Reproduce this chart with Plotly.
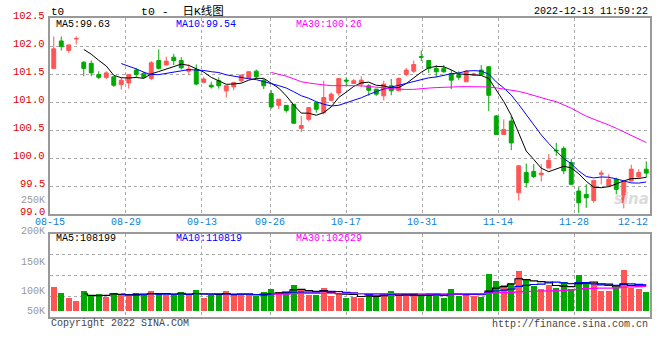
import plotly.graph_objects as go
import pandas as pd

# ---------------- data ----------------
opens = [101.60, 102.09, 101.92, 102.125, 101.71, 101.69, 101.49, 101.44, 101.45, 101.31,
         101.34, 101.57, 101.51, 101.42, 101.74, 101.66, 101.80, 101.74, 101.55, 101.58,
         101.35, 101.30, 101.38, 101.20, 101.27, 101.38, 101.42, 101.55, 101.39, 101.15,
         100.94, 100.94, 100.96, 100.53, 100.69, 100.99, 100.81, 101.03, 101.16, 101.39,
         101.33, 101.32, 101.29, 101.23, 101.11, 101.29, 101.20, 101.49, 101.55, 101.81,
         101.74, 101.60, 101.60, 101.51, 101.49, 101.36, 101.48, 101.57, 101.63, 100.75,
         100.42, 100.66, 99.38, 99.74, 99.76, 99.70, 99.82, 100.14, 100.17, 99.92,
         99.41, 99.35, 99.24, 99.71, 99.50, 99.62, 99.20, 99.59, 99.66, 99.80]
highs = [102.17, 102.17, 102.02, 102.17, 101.73, 101.74, 101.55, 101.55, 101.46, 101.44,
         101.49, 101.61, 101.54, 101.73, 101.94, 101.81, 101.86, 101.80, 101.67, 101.67,
         101.45, 101.36, 101.44, 101.29, 101.36, 101.49, 101.55, 101.58, 101.41, 101.21,
         101.05, 100.94, 100.96, 100.75, 100.90, 100.99, 101.38, 101.17, 101.42, 101.44,
         101.41, 101.46, 101.32, 101.23, 101.38, 101.41, 101.44, 101.61, 101.74, 101.92,
         101.74, 101.66, 101.66, 101.57, 101.55, 101.57, 101.52, 101.66, 101.63, 100.77,
         100.69, 100.75, 99.87, 99.90, 99.89, 99.89, 100.07, 100.27, 100.21, 99.98,
         99.48, 99.53, 99.60, 99.78, 99.71, 99.65, 99.60, 99.88, 99.80, 99.94]
lows = [101.60, 101.92, 101.88, 102.03, 101.46, 101.46, 101.41, 101.41, 101.27, 101.22,
        101.24, 101.44, 101.42, 101.39, 101.58, 101.66, 101.66, 101.58, 101.49, 101.30,
        101.35, 101.24, 101.24, 101.08, 101.21, 101.35, 101.41, 101.42, 101.23, 100.88,
        100.87, 100.81, 100.62, 100.46, 100.66, 100.81, 100.78, 101.01, 101.11, 101.29,
        101.32, 101.26, 101.11, 101.11, 101.03, 101.12, 101.20, 101.46, 101.52, 101.73,
        101.52, 101.44, 101.52, 101.23, 101.39, 101.36, 101.47, 101.49, 100.84, 100.42,
        100.42, 100.14, 99.24, 99.47, 99.64, 99.58, 99.82, 100.04, 99.71, 99.53,
        99.02, 99.11, 99.20, 99.53, 99.50, 99.35, 99.10, 99.58, 99.65, 99.65]
closes = [101.95, 101.99, 102.02, 102.135, 101.60, 101.52, 101.44, 101.52, 101.30, 101.39,
          101.49, 101.49, 101.44, 101.70, 101.60, 101.73, 101.74, 101.61, 101.59, 101.32,
          101.41, 101.27, 101.29, 101.29, 101.35, 101.48, 101.54, 101.45, 101.29, 100.91,
          101.05, 100.85, 100.62, 100.58, 100.90, 100.87, 101.08, 101.14, 101.42, 101.375,
          101.38, 101.39, 101.21, 101.14, 101.32, 101.20, 101.42, 101.57, 101.67, 101.80,
          101.60, 101.54, 101.54, 101.39, 101.44, 101.55, 101.50, 101.49, 101.12, 100.42,
          100.51, 100.27, 99.86, 99.56, 99.67, 99.73, 99.96, 100.13, 99.77, 99.53,
          99.20, 99.29, 99.60, 99.73, 99.62, 99.44, 99.57, 99.80, 99.74, 99.73]
volumes = [102000, 77000, 54000, 43000, 85000, 67000, 71000, 60000, 77000, 71000,
           62000, 77000, 67000, 85000, 71000, 65000, 65000, 81000, 66000, 89000,
           55000, 65000, 71000, 85000, 65000, 65000, 65000, 63000, 80000, 93000,
           80000, 80000, 109000, 92000, 65000, 65000, 97000, 64000, 72000, 54000,
           58000, 54000, 75000, 61000, 71000, 84000, 61000, 71000, 61000, 61000,
           75000, 75000, 54000, 92000, 64000, 75000, 64000, 58000, 156000, 127000,
           109000, 119000, 170000, 135000, 104000, 92000, 109000, 97000, 122000, 94000,
           153000, 122000, 119000, 85000, 85000, 97000, 173000, 97000, 94000, 81000]

date_tick_pos = [0, 10, 20, 29, 39, 49, 59, 69, 79]
date_tick_labels = ["08-15", "08-29", "09-13", "09-26", "10-17", "10-31", "11-14", "11-28", "12-12"]
price_ticks = [99.0, 99.5, 100.0, 100.5, 101.0, 101.5, 102.0, 102.5]
vol_axis_labels = ["250K", "200K", "150K", "100K", "50K"]
price_ma_labels = ["MA5:99.63", "MA10:99.54", "MA30:100.26"]
vol_ma_labels = ["MA5:108199", "MA10:110819", "MA30:102629"]
ma_windows = [5, 10, 30]

# ---------------- styling / layout helpers ----------------
W, H = 660, 360
RED, GREEN = "#ff5555", "#00a800"
MA_COLORS = ["#000000", "#0000ff", "#ff00ff"]
MONO = "Liberation Mono, DejaVu Sans Mono, monospace"
GRID = "#aaaaaa"
FRAME = "#999999"
PRICE_TOP_PX, PRICE_BOT_PX = 18.0, 214.0


def px_x(p):
    return p / W


def px_y(p):
    return 1 - p / H


N = len(closes)
xs = list(range(N))
grid_scale = N / (N - 1)  # date gridlines are spread over N-1 steps
grid_vals = [i * grid_scale - 0.5 for i in date_tick_pos]

# volume axis: bars start at pixel 310.7, ~4260 units per pixel
vol_per_px = 4260.0
vol_lo = -(317.3 - 310.7) * vol_per_px
vol_hi = (310.7 - 234.0) * vol_per_px
vol_grid = [vol_lo + k * (vol_hi - vol_lo) / 4 for k in (1, 2, 3)]

fig = go.Figure()

fig.add_trace(go.Candlestick(
    x=xs, open=opens, high=highs, low=lows, close=closes,
    increasing=dict(line=dict(color=RED, width=1), fillcolor=RED),
    decreasing=dict(line=dict(color=GREEN, width=1), fillcolor=GREEN),
    whiskerwidth=0, xaxis="x", yaxis="y", hoverinfo="skip",
))

close_s = pd.Series(closes)
for w, c in zip(ma_windows, MA_COLORS):
    fig.add_trace(go.Scatter(
        x=xs, y=close_s.rolling(w).mean(), mode="lines",
        line=dict(color=c, width=1), xaxis="x", yaxis="y", hoverinfo="skip",
    ))

bar_colors = [RED if c >= o else GREEN for o, c in zip(opens, closes)]
fig.add_trace(go.Bar(
    x=xs, y=volumes, marker=dict(color=bar_colors, line=dict(width=0)),
    width=0.76, xaxis="x2", yaxis="y2", hoverinfo="skip",
))
vol_s = pd.Series(volumes)
for w, c in zip(ma_windows, MA_COLORS):
    fig.add_trace(go.Scatter(
        x=xs, y=vol_s.rolling(w).mean(), mode="lines",
        line=dict(color=c, width=1.2, shape="hvh"), xaxis="x2", yaxis="y2",
        hoverinfo="skip",
    ))

xdom = [px_x(50), px_x(650)]
common_x = dict(
    domain=xdom, range=[-0.5, N - 0.5], tickmode="array",
    tickvals=grid_vals[1:-1], showticklabels=False, ticks="",
    showgrid=True, gridcolor=GRID, griddash="dot", gridwidth=1,
    zeroline=False, showline=True, mirror=True, linecolor=FRAME, linewidth=1.5,
    fixedrange=True,
)

annotations = []
# price labels (drawn slightly above their gridlines, as in the original)
for v in price_ticks:
    annotations.append(dict(
        x=px_x(47), y=v, xref="paper", yref="y", text=f"{v:.1f}", showarrow=False,
        xanchor="right", yanchor="middle", yshift=2,
        font=dict(family=MONO, size=10.5, color="#e00000"),
    ))
# date labels
for pos, lab in zip(grid_vals, date_tick_labels):
    last = lab == date_tick_labels[-1]
    annotations.append(dict(
        x=pos, y=px_y(222), xref="x", yref="paper", text=lab, showarrow=False,
        xanchor="right" if last else "center", yanchor="middle",
        font=dict(family=MONO, size=10, color="#1080d8"),
    ))
# volume axis labels (as they appear in the original)
for lab, ypx in zip(vol_axis_labels, [200, 231, 262, 291, 311]):
    annotations.append(dict(
        x=px_x(46.5), y=px_y(ypx), xref="paper", yref="paper", text=lab,
        showarrow=False, xanchor="right", yanchor="middle",
        font=dict(family=MONO, size=10, color="#999999"),
    ))
# MA legends
for lab, c, xpx in zip(price_ma_labels, MA_COLORS, [54, 174, 294]):
    annotations.append(dict(
        x=px_x(xpx), y=px_y(24.5), xref="paper", yref="paper", text=lab,
        showarrow=False, xanchor="left", yanchor="middle",
        font=dict(family=MONO, size=10, color=c),
    ))
for lab, c, xpx in zip(vol_ma_labels, MA_COLORS, [54, 174, 294]):
    annotations.append(dict(
        x=px_x(xpx), y=px_y(238.5), xref="paper", yref="paper", text=lab,
        showarrow=False, xanchor="left", yanchor="middle",
        font=dict(family=MONO, size=10, color=c),
    ))
# header / footer texts
annotations += [
    dict(x=px_x(49), y=px_y(12), xref="paper", yref="paper", text="t0",
         showarrow=False, xanchor="left", yanchor="middle",
         font=dict(family=MONO, size=11, color="#000")),
    dict(x=px_x(182), y=px_y(11), xref="paper", yref="paper",
         text="t0\u00a0-\u00a0\u00a0日K线图",
         showarrow=False, xanchor="center", yanchor="middle",
         font=dict(family="Liberation Mono, Noto Sans CJK SC", size=11.5, color="#000")),
    dict(x=px_x(650), y=px_y(12), xref="paper", yref="paper",
         text="2022-12-13 11:59:22", showarrow=False, xanchor="right",
         yanchor="middle", font=dict(family=MONO, size=10, color="#000")),
    dict(x=px_x(49), y=px_y(323.5), xref="paper", yref="paper",
         text="Copyright 2022 SINA.COM", showarrow=False, xanchor="left",
         yanchor="middle", font=dict(family=MONO, size=10, color="#444")),
    dict(x=px_x(650), y=px_y(324), xref="paper", yref="paper",
         text="http://finance.sina.com.cn", showarrow=False, xanchor="right",
         yanchor="middle", font=dict(family=MONO, size=10, color="#444")),
    dict(x=px_x(651), y=px_y(199), xref="paper", yref="paper",
         text="<b><i>sina</i></b>", showarrow=False, xanchor="right",
         yanchor="middle", font=dict(family="DejaVu Sans", size=15, color="#dcdcdc")),
]

fig.update_layout(
    width=W, height=H, margin=dict(l=0, r=0, t=0, b=0),
    paper_bgcolor="white", plot_bgcolor="white", showlegend=False,
    boxgap=0.26, bargap=0,
    xaxis=dict(common_x, anchor="y", rangeslider=dict(visible=False)),
    xaxis2=dict(common_x, anchor="y2", matches="x"),
    yaxis=dict(
        domain=[px_y(PRICE_BOT_PX), px_y(PRICE_TOP_PX)],
        range=[price_ticks[0], price_ticks[-1]],
        tickmode="array", tickvals=price_ticks, showticklabels=False, ticks="",
        showgrid=True, gridcolor=GRID, griddash="dot", gridwidth=1,
        zeroline=False, showline=True, mirror=True, linecolor=FRAME,
        linewidth=1.5, fixedrange=True,
    ),
    yaxis2=dict(
        domain=[px_y(317.3), px_y(234)], range=[vol_lo, vol_hi],
        tickmode="array", tickvals=vol_grid, showticklabels=False, ticks="",
        showgrid=True, gridcolor=GRID, griddash="dot", gridwidth=1,
        zeroline=False, showline=True, mirror=True, linecolor=FRAME,
        linewidth=1.5, fixedrange=True,
    ),
    annotations=annotations,
)

fig.write_html("out.html", config={"displayModeBar": False},
               post_script="document.body.style.margin='0';")
